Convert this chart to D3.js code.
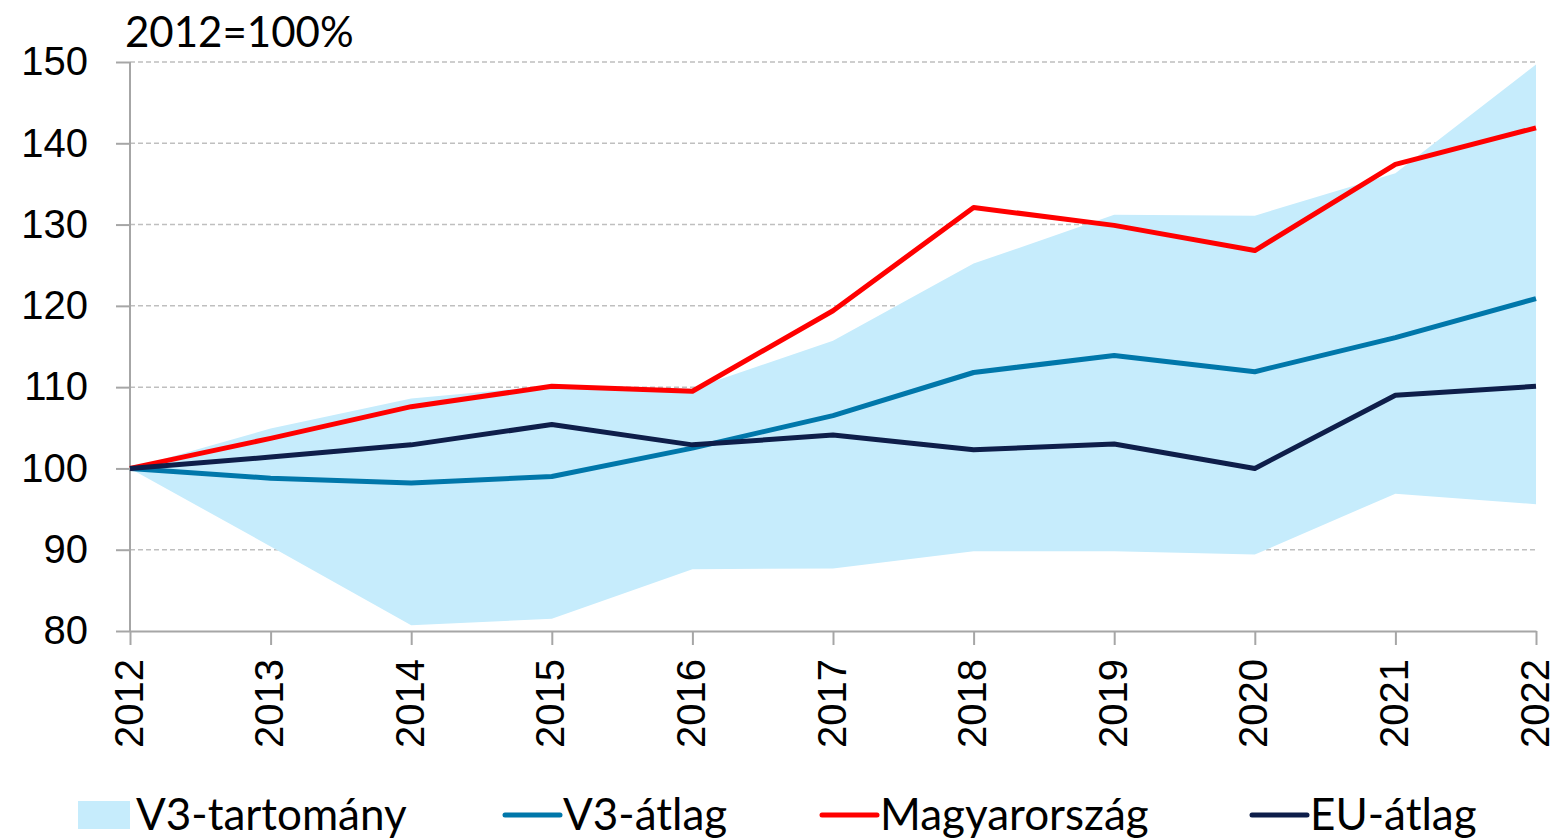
<!DOCTYPE html>
<html>
<head>
<meta charset="utf-8">
<script src="https://cdn.jsdelivr.net/npm/d3@7"></script>
<style>
  body { margin: 0; background: #fff; }
  svg { display: block; font-family: Lato, "Open Sans", sans-serif; }
</style>
</head>
<body>
<svg id="chart"></svg>
<script>
var years = ["2012", "2013", "2014", "2015", "2016", "2017", "2018", "2019", "2020", "2021", "2022"];
var v3Upper = [100, 104.9, 108.6, 110.2, 109.8, 115.7, 125.2, 131.2, 131.1, 136.3, 149.7];
var v3Lower = [100, 90.4, 80.7, 81.5, 87.6, 87.7, 89.8, 89.8, 89.4, 96.9, 95.6];
var v3Avg = [100, 98.8, 98.2, 99.0, 102.5, 106.5, 111.8, 113.9, 111.9, 116.1, 120.9];
var hungary = [100, 103.7, 107.6, 110.1, 109.5, 119.4, 132.1, 129.9, 126.8, 137.4, 141.9];
var euAvg = [100, 101.4, 102.9, 105.4, 102.9, 104.1, 102.3, 103.0, 100.0, 109.0, 110.1];
var yTicks = [80, 90, 100, 110, 120, 130, 140, 150];

var W = 1554, H = 838;
var margin = {top: 62, right: 18, bottom: 207, left: 130};
var width = W - margin.left - margin.right;
var height = H - margin.top - margin.bottom;

var svg = d3.select("#chart").attr("width", W).attr("height", H);
var g = svg.append("g").attr("transform", "translate(" + margin.left + "," + margin.top + ")");

var x = d3.scalePoint().domain(years).range([0, width]);
var y = d3.scaleLinear().domain([80, 150]).range([height, 0]);

// gridlines
g.append("g")
  .selectAll("line")
  .data(yTicks.slice(1))
  .enter().append("line")
    .attr("x1", 0).attr("x2", width)
    .attr("y1", function(d) { return y(d) }).attr("y2", function(d) { return y(d) })
    .attr("stroke", "#bfbfbf").attr("stroke-width", 1.5)
    .attr("stroke-dasharray", "5,3");

// band
var band = years.map(function(yr, i) { return {year: yr, lo: v3Lower[i], hi: v3Upper[i]} });
var area = d3.area()
  .x(function(d) { return x(d.year) })
  .y0(function(d) { return y(d.lo) })
  .y1(function(d) { return y(d.hi) });
g.append("path").datum(band).attr("d", area).attr("fill", "#c6ecfc");

// axes
var yAxis = d3.axisLeft(y).tickValues(yTicks).tickSize(14).tickPadding(28);
var gy = g.append("g").call(yAxis);
gy.selectAll("text").style("font-size", "40px").attr("fill", "#000");

var xAxis = d3.axisBottom(x).tickSize(14).tickSizeOuter(0);
var gx = g.append("g").attr("transform", "translate(0," + height + ")").call(xAxis);
gx.selectAll("text")
  .style("font-size", "40px").attr("fill", "#000")
  .attr("transform", "rotate(-90)")
  .attr("text-anchor", "end")
  .attr("x", -28).attr("y", 0).attr("dy", "0.3em");

[gx, gy].forEach(function(a) {
  a.select(".domain").attr("stroke", "#a6a6a6").attr("stroke-width", 2);
  a.selectAll(".tick line").attr("stroke", "#a6a6a6").attr("stroke-width", 2);
});
gy.select(".domain").attr("d", "M0," + height + "V0");

// lines
var series = [
  {name: "V3-átlag", values: v3Avg, color: "#0077aa"},
  {name: "EU-átlag", values: euAvg, color: "#0e1e4a"},
  {name: "Magyarország", values: hungary, color: "#ff0000"}
];
var line = d3.line()
  .x(function(d, i) { return x(years[i]) })
  .y(function(d) { return y(d) });
g.selectAll(".series")
  .data([series[0], series[2], series[1]])
  .enter().append("path")
    .attr("d", function(d) { return line(d.values) })
    .attr("fill", "none")
    .attr("stroke", function(d) { return d.color })
    .attr("stroke-width", 5)
    .attr("stroke-linejoin", "round");

// unit label
svg.append("text").attr("x", 125).attr("y", 47)
  .style("font-size", "42px").text("2012=100%");

// legend
var leg = svg.append("g").attr("transform", "translate(0,815)");
leg.append("rect").attr("x", 78).attr("y", -14).attr("width", 52).attr("height", 28).attr("fill", "#c6ecfc");
leg.append("text").attr("x", 136).attr("y", 15).style("font-size", "44px").text("V3-tartomány");
var legItems = [
  {s: series[0], x: 505},
  {s: series[2], x: 822},
  {s: series[1], x: 1252}
];
legItems.forEach(function(it) {
  leg.append("line").attr("x1", it.x).attr("x2", it.x + 55)
    .attr("stroke", it.s.color).attr("stroke-width", 5).attr("stroke-linecap", "round");
  leg.append("text").attr("x", it.x + 58).attr("y", 15).style("font-size", "44px").text(it.s.name);
});
</script>
</body>
</html>
